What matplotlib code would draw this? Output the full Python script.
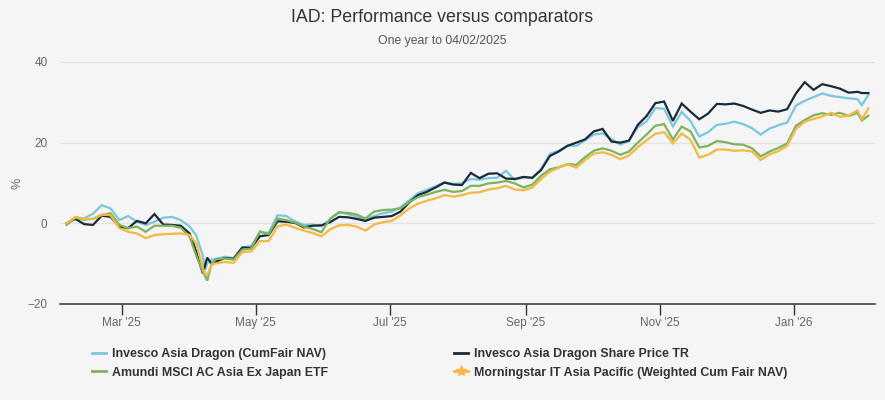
import matplotlib
matplotlib.use("Agg")
import matplotlib.pyplot as plt
import matplotlib.dates as mdates
from matplotlib.lines import Line2D
import pandas as pd

plt.rcParams['font.family'] = ['Liberation Sans', 'DejaVu Sans']

# ---- data (% return) ----
dates = [
    '2025-02-04', '2025-02-08', '2025-02-12', '2025-02-16', '2025-02-20', '2025-02-24', '2025-02-28',
    '2025-03-04', '2025-03-08', '2025-03-12', '2025-03-16', '2025-03-20', '2025-03-24', '2025-03-28',
    '2025-04-01', '2025-04-04', '2025-04-07', '2025-04-08', '2025-04-09', '2025-04-11', '2025-04-13',
    '2025-04-17', '2025-04-21', '2025-04-25', '2025-04-29',
    '2025-05-03', '2025-05-07', '2025-05-11', '2025-05-15', '2025-05-19', '2025-05-23', '2025-05-27', '2025-05-31',
    '2025-06-04', '2025-06-08', '2025-06-12', '2025-06-16', '2025-06-20', '2025-06-24', '2025-06-28',
    '2025-07-02', '2025-07-06', '2025-07-10', '2025-07-14', '2025-07-18', '2025-07-22', '2025-07-26', '2025-07-30',
    '2025-08-03', '2025-08-07', '2025-08-11', '2025-08-15', '2025-08-19', '2025-08-23', '2025-08-27', '2025-08-31',
    '2025-09-04', '2025-09-08', '2025-09-12', '2025-09-16', '2025-09-20', '2025-09-24', '2025-09-28',
    '2025-10-02', '2025-10-06', '2025-10-10', '2025-10-14', '2025-10-18', '2025-10-22', '2025-10-26', '2025-10-30',
    '2025-11-03', '2025-11-07', '2025-11-11', '2025-11-15', '2025-11-19', '2025-11-23', '2025-11-27',
    '2025-12-01', '2025-12-05', '2025-12-09', '2025-12-13', '2025-12-17', '2025-12-21', '2025-12-25', '2025-12-29',
    '2026-01-02', '2026-01-06', '2026-01-10', '2026-01-14', '2026-01-18', '2026-01-22', '2026-01-26', '2026-01-30',
    '2026-02-01', '2026-02-04',
]

cumfair_nav = [
    0, 1.2, 1.2, 2.4, 4.5, 3.7, 0.8,
    1.8, 0.4, -0.4, 0.4, 1.4, 1.6, 0.8,
    -0.8, -3.0, -8.0, -11.5, -10.0, -9.0, -8.8, -8.3, -8.6, -6.0, -5.6,
    -2.2, -2.4, 2.0, 1.8, 0.5, -0.4, -0.3, -0.7,
    1.0, 2.8, 2.3, 1.7, 0.9, 1.8, 2.5,
    2.9, 4.0, 5.7, 7.5, 8.3, 9.2, 10.2, 9.8,
    9.9, 11.0, 10.8, 11.2, 11.3, 13.0, 10.8, 11.4,
    11.2, 13.5, 17.2, 18.0, 19.3, 19.2, 20.6,
    22.0, 22.3, 20.9, 19.5, 20.5, 23.8, 25.3, 28.6,
    28.4, 24.0, 27.6, 25.4, 21.5, 22.6, 24.4,
    24.7, 25.2, 24.6, 23.6, 22.0, 23.5, 24.3, 25.0,
    29.2, 30.4, 31.3, 32.2, 31.6, 31.3, 31.0, 30.8,
    29.3, 31.9,
]

share_price_tr = [
    0, 1.1, -0.2, -0.4, 1.9, 1.6, -0.8,
    -1.2, 0.6, 0, 2.3, -0.3, -0.4, -0.6,
    -2.5, -7.0, -12.4, -10.5, -8.5, -10.0, -9.5, -8.6, -8.8, -6.0, -6.1,
    -3.2, -2.9, 0.5, 0.4, 0.1, -1.0, -0.6, -0.5,
    0.3, 1.6, 1.5, 1.1, 0.6, 1.4, 1.6,
    1.8, 2.9, 5.2, 7.0, 7.8, 8.9, 10.1, 9.6,
    9.5, 12.5, 11.2, 12.3, 12.4, 11.1, 11.0, 11.5,
    11.3, 13.2, 16.7, 17.8, 19.2, 20.0, 20.8,
    22.8, 23.4, 20.3, 20.0, 20.5, 24.4, 26.6, 29.8,
    30.2, 25.4, 29.7, 27.7, 25.8, 27.2, 29.6,
    29.5, 29.7, 29.1, 28.2, 27.4, 28.0, 27.7, 28.3,
    32.2, 35.0, 33.1, 34.5, 34.0, 33.4, 32.4, 32.6,
    32.3, 32.3,
]

amundi_etf = [
    -0.4, 1.4, 0.9, 1.1, 2.0, 2.5, -0.4,
    -1.2, -0.8, -2.1, -0.6, -0.6, -0.6, -1.1,
    -3.3, -8.0, -12.0, -13.0, -14.2, -10.0, -8.9, -8.7, -9.0, -6.5, -6.3,
    -2.0, -2.7, 1.2, 0.8, 0.2, -0.8, -1.4, -2.2,
    1.2, 2.7, 2.6, 2.2, 1.2, 2.9, 3.3,
    3.4, 3.7, 5.3, 6.5, 7.1, 7.8, 8.3, 7.8,
    8.0, 9.3, 9.3, 9.9, 10.1, 10.5, 9.9, 8.9,
    9.6, 11.8, 13.4, 13.9, 14.7, 14.5, 16.4,
    18.0, 18.6, 18.0, 17.0, 17.8, 20.0, 22.0, 24.2,
    24.6, 20.8, 24.0, 22.8, 18.8, 19.2, 20.4,
    20.1, 19.6, 19.5, 18.6, 16.6, 17.8, 18.7, 19.8,
    24.2, 25.6, 26.8, 27.3, 26.9, 27.4, 26.6, 27.4,
    25.5, 26.7,
]

morningstar_apac = [
    0, 1.6, 1.1, 1.1, 2.2, 2.0, -1.2,
    -2.1, -2.5, -3.7, -2.9, -2.7, -2.6, -2.5,
    -2.9, -5.0, -11.0, -12.5, -12.8, -10.3, -9.9, -9.6, -9.8, -7.1, -7.0,
    -4.4, -4.4, -0.8, -0.3, -1.1, -1.8, -2.4, -3.2,
    -1.5, -0.5, -0.4, -0.8, -1.8, -0.3, 0.3,
    0.6, 2.0, 3.7, 4.9, 5.6, 6.2, 7.0, 6.6,
    7.0, 7.6, 7.7, 8.4, 8.7, 9.3, 8.4, 8.2,
    8.9, 11.0, 12.8, 13.8, 14.6, 13.8, 15.7,
    17.3, 17.6, 17.0, 15.9, 16.8, 18.9, 20.6, 22.2,
    22.6, 19.8, 22.3, 20.7, 16.3, 17.0, 18.3,
    18.3, 18.0, 18.1, 17.8, 15.7, 17.1, 17.9, 19.2,
    23.4, 25.2, 25.9, 26.5, 27.4, 26.4, 26.7, 28.0,
    25.8, 28.5,
]

series_names = [
    'Invesco Asia Dragon (CumFair NAV)',
    'Invesco Asia Dragon Share Price TR',
    'Amundi MSCI AC Asia Ex Japan ETF',
    'Morningstar IT Asia Pacific (Weighted Cum Fair NAV)',
]
series_values = [cumfair_nav, share_price_tr, amundi_etf, morningstar_apac]
series_colors = ['#7cc6de', '#1b2a38', '#7cb45c', '#f4b942']

y_ticks = [-20, 0, 20, 40]
x_tick_dates = ['2025-03-01', '2025-05-01', '2025-07-01', '2025-09-01', '2025-11-01', '2026-01-01']

# ---- plot ----
bg = '#f5f5f5'
fig = plt.figure(figsize=(8.85, 4.0), dpi=100, facecolor=bg)
ax = fig.add_axes([60 / 885, 1 - 304 / 400, 815 / 885, 242 / 400])
ax.set_facecolor(bg)

x = pd.to_datetime(dates)
for z, (name, vals, col) in enumerate(zip(series_names, series_values, series_colors)):
    ax.plot(x, vals, color=col, lw=1.6, label=name, zorder=3 + z, solid_joinstyle='miter')

ax.set_ylim(-20, 40)
ax.set_yticks(y_ticks)
ax.set_xlim(pd.Timestamp('2025-02-01'), pd.Timestamp('2026-02-07'))
ax.set_xticks(pd.to_datetime(x_tick_dates))
ax.xaxis.set_major_formatter(mdates.DateFormatter("%b '%y"))

ax.grid(axis='y', color='#e3e3e3', lw=1)
ax.set_axisbelow(True)
for s in ['top', 'right', 'left']:
    ax.spines[s].set_visible(False)
ax.spines['bottom'].set_color('#333333')
ax.spines['bottom'].set_linewidth(1.1)
ax.tick_params(axis='x', colors='#333333', length=8, width=1, labelcolor='#666666',
               labelsize=8.5, pad=1.5)
ax.tick_params(axis='y', length=0, labelcolor='#666666', labelsize=8.5, pad=9)
ax.set_ylabel('%', color='#666666', fontsize=9, labelpad=3)

fig.text(0.5, 1 - 18 / 400, 'IAD: Performance versus comparators', ha='center', va='center',
         fontsize=12.8, color='#333333')
fig.text(0.5, 1 - 41 / 400, 'One year to 04/02/2025', ha='center', va='center',
         fontsize=8.8, color='#555555')

handles = [
    Line2D([], [], color=series_colors[0], lw=2),
    Line2D([], [], color=series_colors[2], lw=2),
    Line2D([], [], color=series_colors[1], lw=2),
    Line2D([], [], color=series_colors[3], lw=2, marker='*', markersize=8),
]
labels = [series_names[0], series_names[2], series_names[1], series_names[3]]
leg = fig.legend(handles, labels, ncol=2, loc='upper left', bbox_to_anchor=(81 / 885, 1 - 337 / 400),
                 frameon=False, handlelength=1.1, handletextpad=0.5, columnspacing=10.2,
                 labelspacing=0.52, prop={'weight': 'bold', 'size': 8.9})
for t in leg.get_texts():
    t.set_color('#333333')

fig.savefig('out.png', dpi=100, facecolor=bg)
